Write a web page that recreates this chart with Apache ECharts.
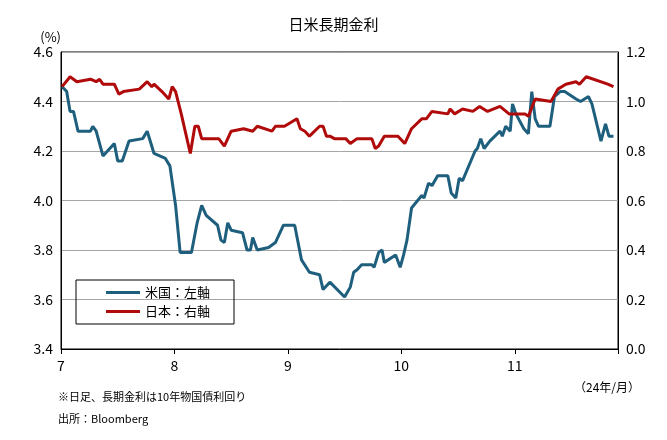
<!DOCTYPE html>
<html><head><meta charset="utf-8">
<script src="https://cdn.jsdelivr.net/npm/echarts@6/dist/echarts.min.js"></script>
<style>body{margin:0;background:#fff}#c{width:667px;height:440px}</style>
</head><body><div id="c"></div>
<script>
// 月位置（7=7月1日）と利回り
let usX = [7.01,7.05,7.08,7.11,7.15,7.26,7.28,7.31,7.37,7.47,7.50,7.54,7.60,7.72,7.76,7.82,7.92,7.96,8.01,8.05,8.15,8.20,8.24,8.28,8.38,8.41,8.44,8.47,8.50,8.60,8.64,8.67,8.69,8.73,8.83,8.89,8.96,9.06,9.12,9.19,9.28,9.31,9.37,9.50,9.55,9.58,9.61,9.65,9.74,9.76,9.80,9.83,9.85,9.95,9.99,10.02,10.05,10.09,10.18,10.20,10.24,10.27,10.32,10.41,10.44,10.48,10.51,10.54,10.65,10.67,10.70,10.73,10.78,10.87,10.89,10.92,10.96,10.98,11.01,11.08,11.12,11.15,11.18,11.21,11.31,11.35,11.40,11.44,11.54,11.58,11.65,11.68,11.76,11.80,11.83,11.87];
let usY = [4.46,4.44,4.36,4.36,4.28,4.28,4.30,4.28,4.18,4.23,4.16,4.16,4.24,4.25,4.28,4.19,4.17,4.14,3.98,3.79,3.79,3.91,3.98,3.94,3.90,3.84,3.83,3.91,3.88,3.87,3.80,3.80,3.85,3.80,3.81,3.83,3.90,3.90,3.76,3.71,3.70,3.64,3.67,3.61,3.65,3.71,3.72,3.74,3.74,3.73,3.79,3.80,3.75,3.78,3.73,3.78,3.84,3.97,4.02,4.01,4.07,4.06,4.10,4.10,4.03,4.01,4.09,4.08,4.20,4.21,4.25,4.21,4.24,4.28,4.26,4.30,4.28,4.39,4.35,4.29,4.27,4.44,4.33,4.30,4.30,4.42,4.44,4.44,4.41,4.40,4.42,4.39,4.24,4.31,4.26,4.26];
let jpX = [7.01,7.08,7.14,7.26,7.31,7.34,7.37,7.47,7.51,7.55,7.69,7.76,7.80,7.82,7.89,7.95,7.98,8.01,8.06,8.14,8.18,8.21,8.24,8.39,8.44,8.50,8.61,8.69,8.73,8.86,8.89,8.97,9.08,9.11,9.15,9.19,9.28,9.31,9.34,9.37,9.41,9.51,9.55,9.61,9.74,9.77,9.80,9.85,9.97,10.03,10.09,10.18,10.22,10.27,10.41,10.43,10.47,10.54,10.63,10.69,10.76,10.87,10.95,11.09,11.12,11.18,11.32,11.38,11.45,11.54,11.57,11.63,11.82,11.87];
let jpY = [1.06,1.10,1.08,1.09,1.08,1.09,1.07,1.07,1.03,1.04,1.05,1.08,1.06,1.07,1.04,1.01,1.06,1.04,0.95,0.79,0.90,0.90,0.85,0.85,0.82,0.88,0.89,0.88,0.90,0.88,0.90,0.90,0.93,0.89,0.88,0.86,0.90,0.90,0.86,0.86,0.85,0.85,0.83,0.85,0.85,0.81,0.82,0.86,0.86,0.83,0.89,0.93,0.93,0.96,0.95,0.97,0.95,0.97,0.96,0.98,0.96,0.98,0.95,0.95,0.94,1.01,1.00,1.05,1.07,1.08,1.07,1.10,1.07,1.06];

let font = '"Noto Sans CJK JP", sans-serif';
let myChart = echarts.init(document.getElementById('c'));
let option = {
    textStyle: { fontFamily: font },
    title: {
        text: '日米長期金利', left: 'center', top: 12,
        textStyle: { fontSize: 15, fontWeight: 'normal', color: '#000', fontFamily: font }
    },
    grid: { left: 61, right: 49, top: 52, bottom: 91, show: true, borderColor: '#000', borderWidth: 1 },
    legend: {
        orient: 'vertical', left: 76, top: 280,
        padding: [6, 24, 6, 30], itemGap: 6,
        borderColor: '#000', borderWidth: 1,
        itemWidth: 34, itemHeight: 3, icon: 'rect',
        textStyle: { fontSize: 13, color: '#000', fontFamily: font },
        data: ['米国：左軸', '日本：右軸']
    },
    xAxis: {
        type: 'value', min: 7, max: 11.91, interval: 1,
        axisLine: { lineStyle: { color: '#000' } },
        axisTick: { show: true, length: 5, lineStyle: { color: '#000' } },
        axisLabel: { color: '#000', fontSize: 14, margin: 10, formatter: v => Number.isInteger(v) ? v : '' },
        splitLine: { show: false }
    },
    yAxis: [{
        type: 'value', min: 3.4, max: 4.6, interval: 0.2, name: '(%)',
        nameGap: 8, nameTextStyle: { color: '#000', fontSize: 13, align: 'right' },
        axisLine: { show: true, lineStyle: { color: '#000' } }, axisTick: { show: false },
        axisLabel: { color: '#000', fontSize: 14, formatter: v => v.toFixed(1) },
        splitLine: { lineStyle: { color: '#a6a6a6' } }
    }, {
        type: 'value', min: 0, max: 1.2, interval: 0.2,
        axisLine: { show: true, lineStyle: { color: '#000' } }, axisTick: { show: false },
        axisLabel: { color: '#000', fontSize: 14, formatter: v => v.toFixed(1) },
        splitLine: { show: false }
    }],
    graphic: [
        { type: 'text', right: 27, top: 381, style: { text: '（24年/月）', fontSize: 12, fill: '#000', fontFamily: font } },
        { type: 'text', left: 58, top: 391, style: { text: '※日足、長期金利は10年物国債利回り', fontSize: 11, fill: '#000', fontFamily: font } },
        { type: 'text', left: 58, top: 413, style: { text: '出所：Bloomberg', fontSize: 11, fill: '#000', fontFamily: font } }
    ],
    series: [{
        name: '米国：左軸', type: 'line', yAxisIndex: 0, symbol: 'none',
        lineStyle: { width: 3, color: '#1f5f7e' }, itemStyle: { color: '#1f5f7e' },
        data: usX.map((x, i) => [x, usY[i]])
    }, {
        name: '日本：右軸', type: 'line', yAxisIndex: 1, symbol: 'none',
        lineStyle: { width: 3, color: '#b00a0a' }, itemStyle: { color: '#b00a0a' },
        data: jpX.map((x, i) => [x, jpY[i]])
    }]
};
myChart.setOption(option);
</script></body></html>
